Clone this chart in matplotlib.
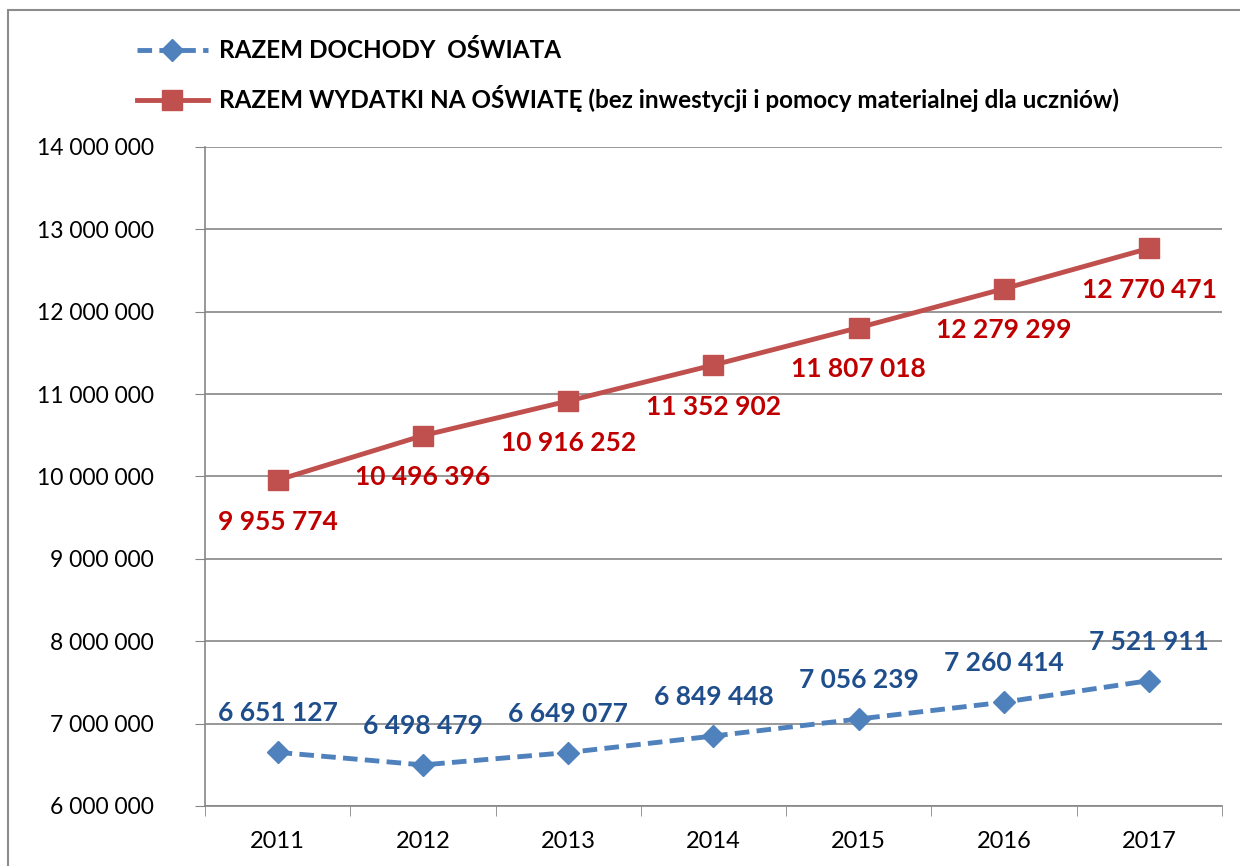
import matplotlib.pyplot as plt
import matplotlib.patches as mpatches
import numpy as np

years = ['2011', '2012', '2013', '2014', '2015', '2016', '2017']
dochody = [6651127, 6498479, 6649077, 6849448, 7056239, 7260414, 7521911]
wydatki = [9955774, 10496396, 10916252, 11352902, 11807018, 12279299, 12770471]

plt.rcParams['font.family'] = ['Lato', 'DejaVu Sans']


def fmt(v):
    return f'{v:,}'.replace(',', ' ')


fig = plt.figure(figsize=(12.4, 8.66), dpi=100)
ax = fig.add_axes([0.1653, 0.0693, 0.8202, 0.761])
fig.patches.append(mpatches.Rectangle((0.0065, -0.01), 1.0, 0.9985, transform=fig.transFigure,
                                      fill=False, edgecolor='#8c8c8c', linewidth=1.5))

x = np.arange(len(years))
l1, = ax.plot(x, dochody, color='#4F81BD', linewidth=3.5, linestyle=(0, (3, 1.5)),
              marker='D', markersize=11, markeredgecolor='#4F81BD', markerfacecolor='#4F81BD',
              label='RAZEM DOCHODY  OŚWIATA')
l2, = ax.plot(x, wydatki, color='#C0504D', linewidth=3.5,
              marker='s', markersize=14, markeredgecolor='#C0504D', markerfacecolor='#C0504D',
              label='RAZEM WYDATKI NA OŚWIATĘ (bez inwestycji i pomocy materialnej dla uczniów)')

for xi, v in zip(x, dochody):
    ax.annotate(fmt(v), (xi, v), xytext=(0, 28), textcoords='offset points',
                ha='center', va='center', fontsize=19, fontweight='bold', color='#1F4E8C')
for xi, v in zip(x, wydatki):
    ax.annotate(fmt(v), (xi, v), xytext=(0, -30), textcoords='offset points',
                ha='center', va='center', fontsize=19, fontweight='bold', color='#C00000')

ax.set_xlim(-0.5, 6.5)
ax.set_ylim(6000000, 14000000)
ax.set_yticks(np.arange(6000000, 14000001, 1000000))
ax.set_yticklabels([fmt(v) for v in range(6000000, 14000001, 1000000)], fontsize=16.5)
ax.set_xticks(x)
ax.set_xticklabels(years, fontsize=17)
ax.set_xticks(np.arange(-0.5, 7, 1), minor=True)
ax.tick_params(axis='x', which='major', length=0, pad=18)
ax.tick_params(axis='x', which='minor', length=7, color='#868686')
ax.tick_params(axis='y', length=7, color='#868686', pad=30)
ax.grid(axis='y', color='#868686', linewidth=1.2)
ax.set_axisbelow(True)
for s in ['top', 'right']:
    ax.spines[s].set_visible(False)
for s in ['left', 'bottom']:
    ax.spines[s].set_color('#868686')
    ax.spines[s].set_linewidth(1.2)

fig.legend(handles=[l1, l2], loc='upper left', bbox_to_anchor=(0.093, 0.98), frameon=False,
           prop={'size': 17.5, 'weight': 'bold'}, handlelength=2.9, labelspacing=0.95,
           handletextpad=0.45)

fig.savefig('out.png', dpi=100)
